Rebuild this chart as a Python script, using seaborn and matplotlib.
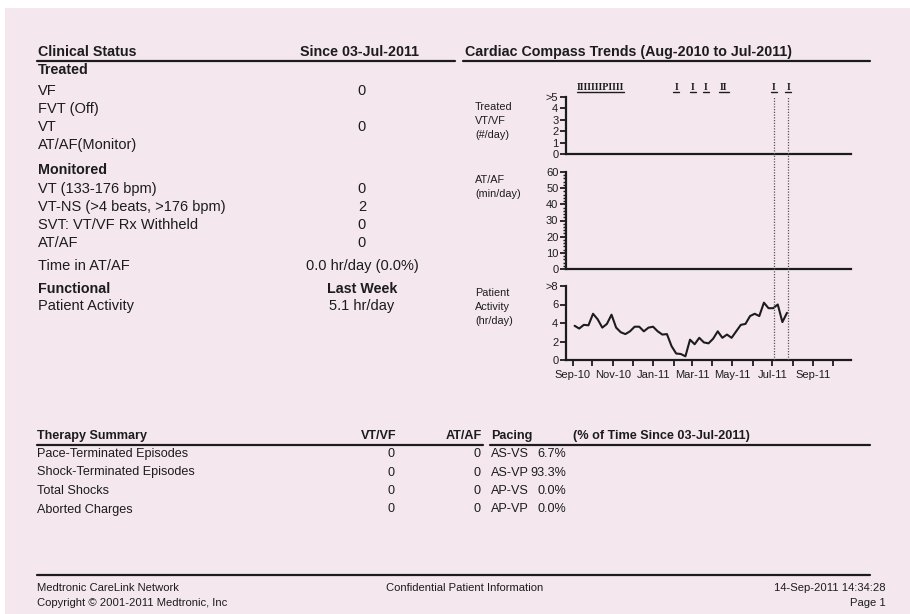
import matplotlib
matplotlib.use("Agg")
import matplotlib.pyplot as plt
import matplotlib.dates as mdates
import matplotlib.ticker as mticker
import matplotlib.transforms as mtrans
from matplotlib.lines import Line2D
from matplotlib.patches import Rectangle
from matplotlib import font_manager
import pandas as pd
import seaborn as sns

# ---- data ----
activity_start = "2010-09-04"
activity_hr_day = [3.7, 3.4, 3.8, 3.75, 5.0, 4.4, 3.5, 3.9, 4.9, 3.5,
                   3.0, 2.8, 3.1, 3.6, 3.6, 3.1, 3.5, 3.6, 3.1, 2.75,
                   2.8, 1.5, 0.7, 0.65, 0.4, 2.2, 1.7, 2.4, 1.9, 1.8,
                   2.3, 3.1, 2.4, 2.75, 2.4, 3.1, 3.8, 3.9, 4.75, 5.0,
                   4.75, 6.2, 5.6, 5.6, 6.0, 4.1, 5.1]
trend_start, trend_end = "2010-08-22", "2011-10-28"
session_dates = ["2011-07-03", "2011-07-25"]
episode_dates = ["2010-10-13", "2011-02-05", "2011-03-02", "2011-03-22",
                 "2011-04-18", "2011-07-03", "2011-07-25"]
episode_marks = ["IIIIIIIPIIII", "I", "I", "I", "II", "I", "I"]

treated_items = ["VF", "FVT (Off)", "VT", "AT/AF(Monitor)"]
treated_counts = ["0", "", "0", ""]
monitored_items = ["VT (133-176 bpm)", "VT-NS (>4 beats, >176 bpm)",
                   "SVT: VT/VF Rx Withheld", "AT/AF"]
monitored_counts = ["0", "2", "0", "0"]
time_in_af = "0.0 hr/day (0.0%)"
activity_last_week = "5.1 hr/day"

therapy_rows = ["Pace-Terminated Episodes", "Shock-Terminated Episodes",
                "Total Shocks", "Aborted Charges"]
therapy_vtvf = [0, 0, 0, 0]
therapy_atf = [0, 0, 0, 0]
pacing_modes = ["AS-VS", "AS-VP", "AP-VS", "AP-VP"]
pacing_pct = [6.7, 93.3, 0.0, 0.0]

# ---- style ----
sns.set_style("ticks")
plt.rcParams["font.family"] = ["Liberation Sans", "DejaVu Sans"]
names = {f.name for f in font_manager.fontManager.ttflist}
narrow = "Liberation Sans Narrow" if "Liberation Sans Narrow" in names else "Liberation Sans"
nscale = 1.0 if narrow == "Liberation Sans Narrow" else 0.84

PINK = "#f4e8ee"
INK = "#1c1c1c"
W, H = 910, 614

fig = plt.figure(figsize=(9.1, 6.14), dpi=100)
fig.patch.set_facecolor("white")
fig.add_artist(Rectangle((5 / W, 0), 1, 1 - 8 / H, transform=fig.transFigure,
                         facecolor=PINK, edgecolor="none", zorder=0))


def txt(x, y, s, size=11, bold=False, ha="left", family=None):
    fig.text(x / W, 1 - y / H, s, ha=ha, va="center", fontsize=size,
             fontweight="bold" if bold else "normal", color=INK,
             family=family if family else plt.rcParams["font.family"])


def rule(x0, x1, y, lw=1.6):
    fig.add_artist(Line2D([x0 / W, x1 / W], [1 - y / H] * 2,
                          transform=fig.transFigure, color=INK, lw=lw))


def rect(left, right, top, bottom):
    return [left / W, 1 - bottom / H, (right - left) / W, (bottom - top) / H]


# ---- clinical status ----
txt(38, 52, "Clinical Status", 10.3, True)
txt(300, 52, "Since 03-Jul-2011", 10.3, True)
rule(37, 455, 61)
txt(38, 70, "Treated", 10.3, True)
for i, (lab, val) in enumerate(zip(treated_items, treated_counts)):
    y = 91 + i * 18
    txt(38, y, lab, 10.5)
    txt(362, y, val, 10.5, ha="center")
txt(38, 170, "Monitored", 10.3, True)
for i, (lab, val) in enumerate(zip(monitored_items, monitored_counts)):
    y = 189 + i * 18
    txt(38, y, lab, 10.5)
    txt(362, y, val, 10.5, ha="center")
txt(38, 266, "Time in AT/AF", 10.5)
txt(362, 266, time_in_af, 10.5, ha="center")
txt(38, 289, "Functional", 10.3, True)
txt(362, 289, "Last Week", 10.3, True, ha="center")
txt(38, 306, "Patient Activity", 10.5)
txt(362, 306, activity_last_week, 10.5, ha="center")

# ---- cardiac compass ----
txt(465, 52, "Cardiac Compass Trends (Aug-2010 to Jul-2011)", 10.3, True)
rule(463, 870, 61)
for y, s in zip([107, 121, 135], ["Treated", "VT/VF", "(#/day)"]):
    txt(475, y, s, 7.8)
for y, s in zip([180, 194], ["AT/AF", "(min/day)"]):
    txt(475, y, s, 7.8)
for y, s in zip([293, 307, 321], ["Patient", "Activity", "(hr/day)"]):
    txt(475, y, s, 7.8)

x0, x1 = pd.Timestamp(trend_start), pd.Timestamp(trend_end)
ax1 = fig.add_axes(rect(566, 851, 97, 154))
ax2 = fig.add_axes(rect(566, 851, 172, 269))
ax3 = fig.add_axes(rect(566, 851, 286, 360))
ov = fig.add_axes(rect(566, 851, 97, 360))

act = pd.DataFrame({
    "date": pd.date_range(activity_start, periods=len(activity_hr_day), freq="7D"),
    "hours": activity_hr_day,
})
sns.lineplot(data=act, x="date", y="hours", ax=ax3, color=INK, lw=1.5)

for ax in (ax1, ax2, ax3):
    ax.set_facecolor("none")
    sns.despine(ax=ax)
    for sp in ("left", "bottom"):
        ax.spines[sp].set_linewidth(1.6)
        ax.spines[sp].set_color(INK)
    ax.set_xlim(x0, x1)
    ax.set_xlabel("")
    ax.set_ylabel("")
    ax.tick_params(axis="both", length=4, width=1.3, labelsize=8, pad=1.5,
                   colors=INK)

ax1.set_ylim(0, 5)
ax1.set_yticks(range(6))
ax1.set_yticklabels(["0", "1", "2", "3", "4", ">5"])
ax1.set_xticks([])

ax2.set_ylim(0, 60)
ax2.set_yticks(range(0, 61, 10))
ax2.yaxis.set_minor_locator(mticker.MultipleLocator(2))
ax2.tick_params(axis="y", which="minor", length=2.5, width=1, colors=INK)
ax2.set_xticks([])

ax3.set_ylim(0, 8)
ax3.set_yticks(range(0, 9, 2))
ax3.set_yticklabels(["0", "2", "4", "6", ">8"])
ax3.xaxis.set_major_locator(mdates.MonthLocator())
ax3.xaxis.set_major_formatter(mticker.FuncFormatter(
    lambda v, p: mdates.num2date(v).strftime("%b-%y")
    if mdates.num2date(v).month % 2 == 1 else ""))
ax3.tick_params(axis="x", pad=3)

ov.set_xlim(x0, x1)
ov.set_ylim(0, 1)
ov.axis("off")
for d in session_dates:
    ov.axvline(pd.Timestamp(d), color="#555555", lw=0.9, ls=(0, (1, 1.2)))

bt = mtrans.blended_transform_factory(ax1.transData, ax1.transAxes)
for d, m in zip(episode_dates, episode_marks):
    xd = mdates.date2num(pd.Timestamp(d))
    ax1.text(xd, 1.17, m, transform=bt, ha="center", va="center", fontsize=7.2,
             family="Liberation Serif", fontweight="bold", color=INK, clip_on=False)
    half = len(m) * 2.8 + 2
    ax1.plot([xd - half, xd + half], [1.08, 1.08], transform=bt, color=INK,
             lw=1.0, clip_on=False)

# ---- therapy summary ----
ts = 10.8 * nscale
txt(37, 436, "Therapy Summary", ts, True, family=narrow)
txt(397, 436, "VT/VF", ts, True, ha="right", family=narrow)
txt(482, 436, "AT/AF", ts, True, ha="right", family=narrow)
txt(491, 436, "Pacing", ts, True, family=narrow)
txt(573, 436, "(% of Time Since 03-Jul-2011)", ts, True, family=narrow)
rule(37, 483, 445)
rule(490, 870, 445)
for i in range(len(therapy_rows)):
    y = 454 + i * 18.5
    txt(37, y, therapy_rows[i], ts, family=narrow)
    txt(394, y, str(therapy_vtvf[i]), ts, ha="right", family=narrow)
    txt(481, y, str(therapy_atf[i]), ts, ha="right", family=narrow)
    txt(491, y, pacing_modes[i], ts, family=narrow)
    txt(566, y, f"{pacing_pct[i]:.1f}%", ts, ha="right", family=narrow)

# ---- footer ----
fs = 9.6 * nscale
rule(37, 870, 575)
txt(37, 588, "Medtronic CareLink Network", fs, family=narrow)
txt(37, 603, "Copyright \u00a9 2001-2011 Medtronic, Inc", fs, family=narrow)
txt(386, 588, "Confidential Patient Information", fs, family=narrow)
txt(886, 588, "14-Sep-2011 14:34:28", fs, ha="right", family=narrow)
txt(886, 603, "Page 1", fs, ha="right", family=narrow)

fig.savefig("out.png", dpi=100, facecolor=fig.get_facecolor())
